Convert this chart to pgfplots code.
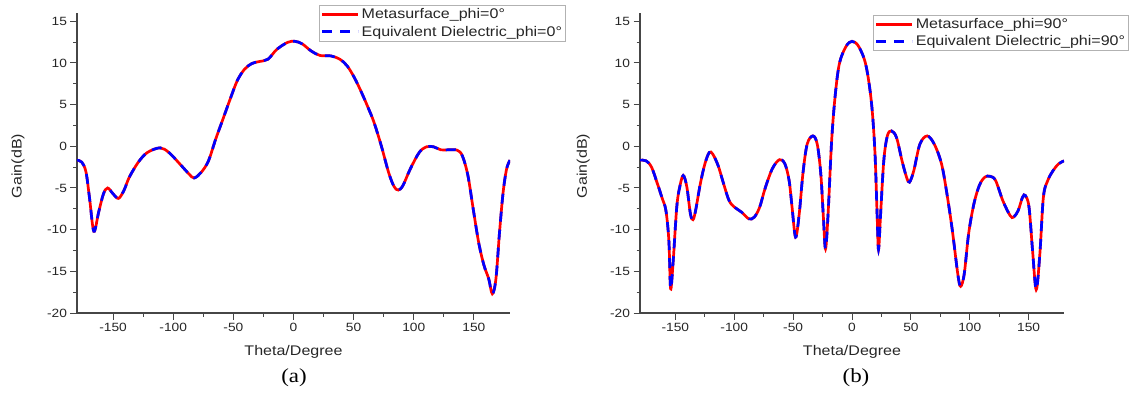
\documentclass[border=0pt]{standalone}
\usepackage{fontspec}
\setmainfont{Liberation Sans}[FakeStretch=1.15]
\newfontfamily\capfont{Liberation Serif}[FakeStretch=1.15]
\usepackage{pgfplots}
\pgfplotsset{compat=1.18}
\usepackage{pgfplotstable}
\definecolor{myred}{RGB}{255,0,0}
\definecolor{myblue}{RGB}{0,0,255}
\definecolor{axgray}{RGB}{70,70,70}

\pgfplotstableread{
th g
-180 -1.66
-176 -1.9
-172.5 -3.1
-169.5 -6.3
-166 -10.2
-162 -7.9
-158 -5.7
-154.5 -5.0
-150 -5.7
-145.5 -6.25
-141 -5.3
-136.5 -3.7
-129 -1.9
-121.5 -0.74
-111 -0.18
-103.6 -0.74
-94.6 -2.1
-87 -3.3
-82.6 -3.8
-76.6 -3.1
-70.7 -1.74
-64.7 0.86
-58.7 3.25
-52.7 5.65
-46.7 7.9
-40.7 9.25
-34.7 9.93
-28.7 10.17
-21.3 10.45
-13.8 11.64
-4.8 12.48
1.2 12.6
7.2 12.3
14.7 11.44
22.2 10.9
31.1 10.85
38.6 10.45
44.6 9.65
50.6 8.25
56.6 6.45
62.6 4.45
67 2.85
73 0.06
79 -3.1
83.5 -4.8
87.1 -5.25
91 -4.7
97 -2.74
104.5 -0.74
110.5 -0.06
116.5 -0.06
122.5 -0.42
128.4 -0.42
136 -0.46
140.4 -1.14
145 -3.5
149.4 -7.5
153.9 -11.5
158.2 -14.2
162.3 -15.9
165.3 -17.7
168.3 -15.9
171.3 -10.3
174.3 -5.5
177.2 -2.7
180 -1.66
}\dataA

\pgfplotstableread{
th g
-180 -1.66
-174.8 -1.74
-170.2 -2.5
-165.6 -4.33
-161 -6.3
-158 -7.7
-155.5 -11.3
-154 -17.1
-151.8 -13.7
-148.8 -7.3
-146.3 -4.9
-143.3 -3.5
-140.2 -4.9
-137.2 -8.1
-135 -8.8
-132.8 -7.7
-128.8 -4.5
-124.9 -2.1
-121.2 -0.74
-118.2 -0.94
-113.6 -2.34
-109 -4.5
-104.4 -6.5
-99.8 -7.3
-93.7 -7.9
-87.6 -8.7
-83 -8.5
-78.4 -7.3
-73.9 -5.1
-67.7 -2.7
-61.6 -1.6
-57 -2.1
-53.4 -4.1
-50.9 -7.3
-47.9 -10.9
-44.8 -8.1
-41.7 -3.3
-38.1 0.25
-33.2 1.25
-29.5 0.25
-26.5 -3.3
-24.3 -8.5
-22.5 -12.3
-20.3 -8.1
-17.3 0.65
-14.2 6.2
-10.6 10.0
-5.0 12.0
0 12.6
5.6 12.0
11.7 9.8
16.4 5.4
19.4 -0.5
21.3 -8.1
22.5 -12.4
24.3 -8.1
27 -1.7
30 1.25
33.5 1.85
37.8 1.05
42.4 -1.7
46.3 -3.7
48.8 -4.3
52.5 -2.9
57.6 0.25
63.8 1.25
69.9 0.25
76 -2.1
80.6 -5.7
85.2 -10.1
89.8 -15.3
92.2 -16.8
95.3 -15.3
99 -10.5
103.5 -6.9
108.1 -4.7
112.7 -3.7
117.3 -3.6
121.9 -4.1
128 -6.5
134.2 -8.3
137.2 -8.5
141.1 -7.7
144.8 -6.1
147.2 -5.9
150.3 -7.3
153.3 -12.5
156.4 -17.2
159.5 -12.9
162.5 -6.1
166.2 -4.1
170.8 -2.9
175.4 -2.1
180 -1.74
}\dataB

\pgfplotsset{
  gainstyle/.style={
    scale only axis, height=300bp, anchor=south west,
    xmin=-180, xmax=180, ymin=-20, ymax=16,
    axis x line*=bottom, axis y line*=left,
    axis line style={axgray, line width=1.2bp},
    xtick={-150,-100,...,150}, ytick={-20,-15,...,15},
    minor x tick num=1, minor y tick num=1,
    tick align=outside,
    major tick length=6.5bp, minor tick length=3.5bp,
    tick style={axgray, line width=1bp},
    tick label style={font=\fontsize{12}{12}\selectfont, text=black!85},
    /pgf/number format/assume math mode=true,
    xlabel={Theta/Degree}, ylabel={Gain(dB)},
    label style={font=\fontsize{14}{14}\selectfont, text=black!85},
    legend cell align=left,
    legend style={draw=gray!60, line width=0.8bp, anchor=north west,
      font=\fontsize{14}{15}\selectfont, text=black!85,
      inner sep=1.5bp, row sep=1.5bp,
      nodes={inner sep=2bp}},
    legend image code/.code={\draw[##1] (0bp,0bp) -- (36bp,0bp);},
  },
  redline/.style={myred, line width=2.7bp, smooth, tension=0.55},
  blueline/.style={myblue, line width=2.7bp, dash pattern=on 10bp off 8bp, smooth, tension=0.55},
}

\begin{document}
\begin{tikzpicture}
\path[use as bounding box] (0,0) rectangle (1130bp,394bp);
\begin{axis}[gainstyle, at={(77bp,81bp)}, width=433bp,
  xlabel style={at={(axis description cs:0.5,-0.13)}, anchor=center},
  ylabel style={at={(axis description cs:-0.136,0.49)}, anchor=center},
  legend style={at={(0.559,1.027)}}]
\addplot[redline] table[x=th,y=g] {\dataA};
\addlegendentry{Metasurface\_phi=0°}
\addplot[blueline] table[x=th,y=g] {\dataA};
\addlegendentry{Equivalent Dielectric\_phi=0°}
\end{axis}
\begin{axis}[gainstyle, at={(640bp,81bp)}, width=424bp,
  xlabel style={at={(axis description cs:0.5,-0.13)}, anchor=center},
  ylabel style={at={(axis description cs:-0.134,0.49)}, anchor=center},
  legend style={at={(0.550,0.994)}}]
\addplot[redline] table[x=th,y=g] {\dataB};
\addlegendentry{Metasurface\_phi=90°}
\addplot[blueline] table[x=th,y=g] {\dataB};
\addlegendentry{Equivalent Dielectric\_phi=90°}
\end{axis}
\node[font=\capfont\fontsize{20}{20}\selectfont] at (294bp,16bp) {(a)};
\node[font=\capfont\fontsize{20}{20}\selectfont] at (856bp,16bp) {(b)};
\end{tikzpicture}
\end{document}
